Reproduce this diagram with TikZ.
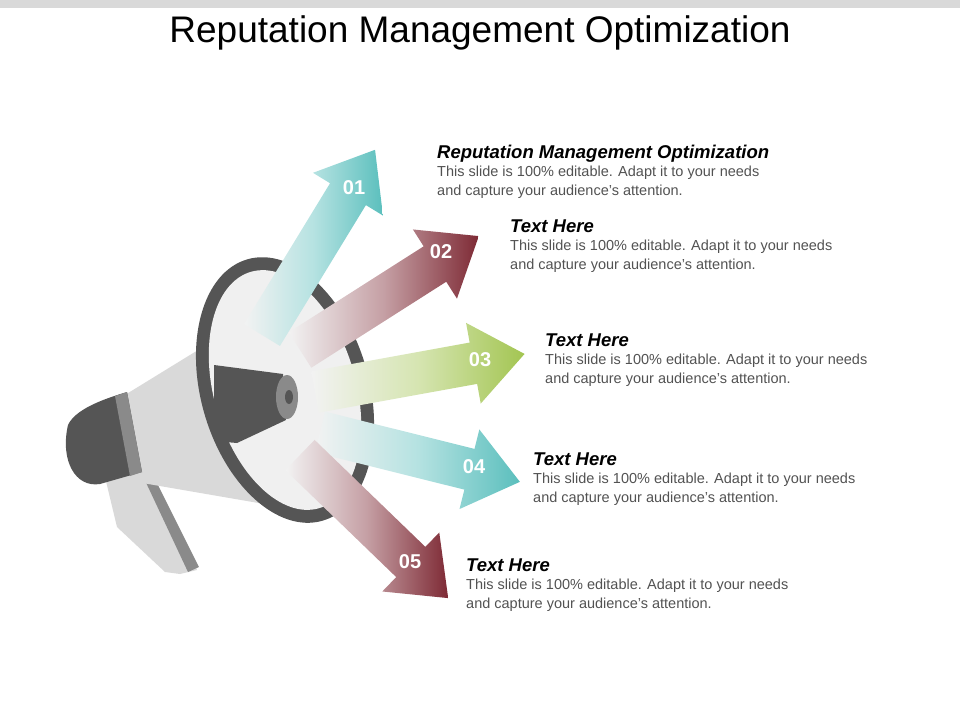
\documentclass[tikz,border=0pt]{standalone}
\usepackage{fontspec}
\setmainfont{Liberation Sans}
\begin{document}
\begin{tikzpicture}[x=1pt,y=-1pt,
  head/.style={anchor=base west,font=\fontsize{18.5}{20}\selectfont\bfseries\itshape,inner sep=0},
  body/.style={anchor=north west,font=\fontsize{14.5}{19}\selectfont,text=black!68,inner sep=0,align=left},
  num/.style={font=\fontsize{20}{22}\selectfont\bfseries,text=white}]
\definecolor{teal}{HTML}{5BBFBD}\definecolor{maroon}{HTML}{7E2A35}\definecolor{lgreen}{HTML}{A3C552}
\definecolor{dk}{HTML}{555555}\definecolor{md}{HTML}{8A8A8A}\definecolor{lt}{HTML}{D9D9D9}
\useasboundingbox (0,0) rectangle (960,720);
\fill[black!15] (0,0) rectangle (960,8);
\node[font=\fontsize{37}{40}\selectfont] (title) at (480,33) {Reputation Management Optimization};
% megaphone
\fill[lt] (105,477) -- (150,473) -- (197,570) -- (180,574) -- (165,572) -- (117,527) -- cycle;
\fill[md] (142,474) -- (152,473) -- (199,567) -- (188,572) -- cycle;
\fill[lt] (120,398) -- (255,315) -- (270,505) -- (125,480) -- cycle;
\fill[dk] (68,425) .. controls (75,410) and (100,400) .. (127,392) -- (142,472) -- (100,484) .. controls (75,488) and (60,460) .. (68,425);
\fill[md] (115,396) -- (127,392) -- (142,472) -- (130,476) -- cycle;
\fill[dk, rotate around={16:(285,390)}] (285,390) ellipse[x radius=84,y radius=136];
\fill[black!6, rotate around={16:(285,390)}] (285,390) ellipse[x radius=71,y radius=123];
\fill[dk] (214,365) -- (283,374) -- (286,420) -- (237,443) -- (214,441) -- cycle;
\fill[md] (287,397) ellipse[x radius=11,y radius=22];
\fill[dk] (289,397) ellipse[x radius=4,y radius=7];
% arrows
\foreach \sx/\sy/\ang/\len/\c in {262/335/58.6/217/teal, 300/350/32.5/212/maroon, 315/392/10.3/213/lgreen, 320/432/-14/206/teal, 300/455/-44/206/maroon}{
  \begin{scope}[shift={(\sx,\sy)},rotate=\ang]
   \shade[left color=white!95!black,right color=\c,middle color=\c!45] (0,-21) -- (\len-52,-21) -- (\len-52,-41) -- (\len,0) -- (\len-52,41) -- (\len-52,21) -- (0,21) -- cycle;
  \end{scope}}
\node[num] (n1) at (354,188) {01};
\node[num] (n2) at (441,252) {02};
\node[num] (n3) at (480,360) {03};
\node[num] (n4) at (474,467) {04};
\node[num] (n5) at (410,562) {05};
% texts
\node[head] (h1) at (437,158) {Reputation Management Optimization};
\node[body] (b1) at (437,166) {This slide is 100\% editable. Adapt it to your needs\\and capture your audience's attention.};
\node[head] (h2) at (510,232) {Text Here};
\node[body] (b2) at (510,240) {This slide is 100\% editable. Adapt it to your needs\\and capture your audience's attention.};
\node[head] (h3) at (545,346) {Text Here};
\node[body] (b3) at (545,354) {This slide is 100\% editable. Adapt it to your needs\\and capture your audience's attention.};
\node[head] (h4) at (533,465) {Text Here};
\node[body] (b4) at (533,473) {This slide is 100\% editable. Adapt it to your needs\\and capture your audience's attention.};
\node[head] (h5) at (466,571) {Text Here};
\node[body] (b5) at (466,579) {This slide is 100\% editable. Adapt it to your needs\\and capture your audience's attention.};
\end{tikzpicture}
\end{document}
